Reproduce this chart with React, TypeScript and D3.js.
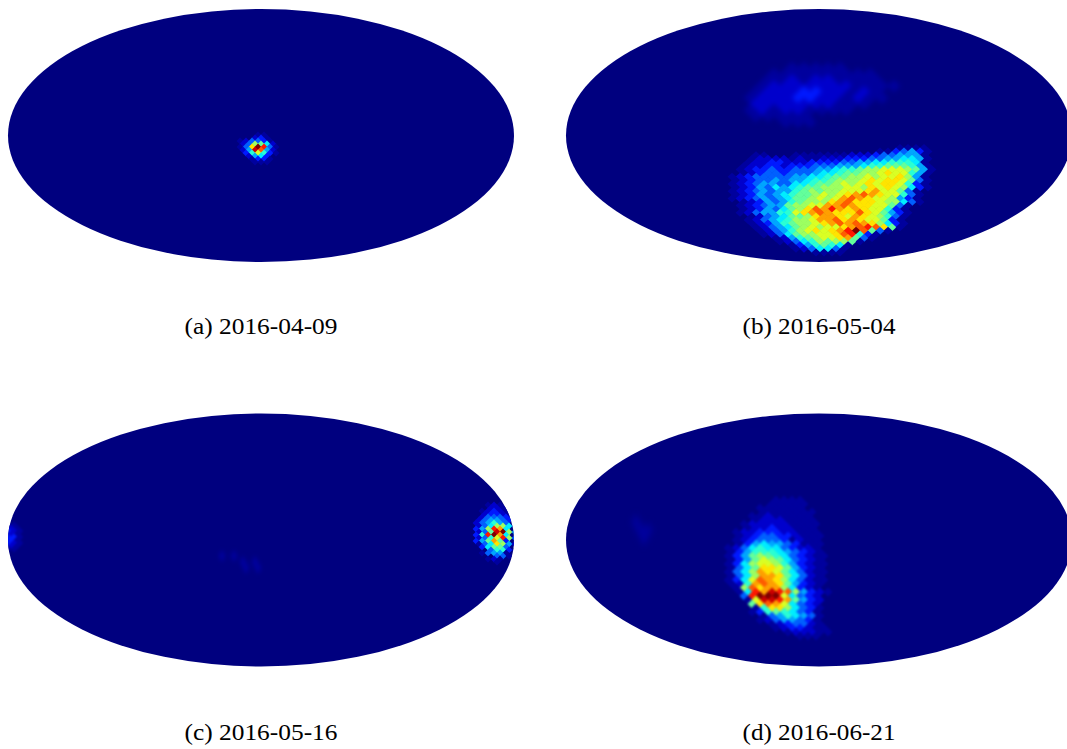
import React from "react";
import * as d3 from "d3";

const captions = ["(a) 2016-04-09", "(b) 2016-05-04", "(c) 2016-05-16", "(d) 2016-06-21"];

// estimated colour level per sky cell: "." background, "," faint, 0-9a-f along the jet map
const heatA = [
  "...,,..",
  "..12,.",
  ",1332,.",
  "138751",
  ",3afd3,",
  "14ec41",
  ".26962,",
  ".1452.",
  "..,22,.",
  "..,,,",
];
const heatB = [
  "......................,,,,",
  "...................,,2342,",
  "....,,...,,,,,,,111233444,",
  "...,1111,1,,1112223344554,",
  "...,112211122223344556665,",
  "..,1122122233344456677764,",
  "..,12232233344566788999874,",
  "..,12332333455677889a9964,",
  ".,12333334455677889899a84,",
  ".,1233434456678889a9aa973,",
  ".,1234433556778989a9aa962,",
  ".,1243545677888998a9a9852,",
  ".,1234344678788999ab9973,.",
  ".,1243456778989abcba9963,.",
  ".,1234345778989bcba99842,.",
  "..,1243467888abcaaa98853,.",
  "..,1234478899bbcbaa9973,..",
  "..,1243578acbdbaba9962,..",
  "..,1344669abcbaaaca9742,.",
  "...,1345778abba9ba9863,..",
  "...,13456889bbcaba9972,...",
  "...,12467889abcbcba852,...",
  "....,1345789899abcdca7,",
  "....,134689a9abdfc73,",
  ".....,13578899acd62,",
  "......,1467899ab73,",
  ".......,135687887,",
  "........,246765,",
  ".........,13553,",
  "...........,,,,",
];
const heatBUpper = [
  "....,,,,,....",
  "..,,,,,,,,,..",
  "..,,1,11,,,,.",
  ".,1111111,,,,",
  ".,1112211,1,.",
  ",1112211,1,,.",
  ".1111111,,,..",
  ",1,11,,,,....",
  ".,,,,,.......",
  "...,,,.......",
];
const heatCRight = [
  "..,1,...",
  "..11,.",
  ".,121,,.",
  ".1221,",
  ".13332,.",
  "1344321",
  "134643",
  "1358853",
  "248db5",
  "137ef84",
  "26dfb5",
  "1369d83",
  "247b72",
  ",35a841",
  ".25773",
  "..3662,",
  ".,344,",
  "...33,.",
  "..,1,.",
  "...,...",
];
const heatCLeft = [",,", "1,", "21,", "1,", "22,", "2,", "21,", "1,", ",,"];
const heatCFaint = [",.,....", "...,.,.", "....,.,"];
const heatD = [
  "......,,,,...",
  ".....,,,,,...",
  "....,,,,,,...",
  "....,,,,,,,..",
  "...,,1,,,,,..",
  "...,111,,,,..",
  "..,11111,,,,.",
  "..,11211,,,..",
  ".,1122211,,,.",
  ".,1233221,,,.",
  ".,123332,1,,.",
  ".,2454432,,,.",
  ",1356553211,.",
  ",2466654321,.",
  ",2478765321,,",
  ",2479875321,.",
  ",2589986421,,",
  ",357aa97421,.",
  ",358ba97531,,",
  ",358bba7531,.",
  ",259cba8531,,",
  ",16bcba7421,.",
  ".,8cabb8521,.",
  ".,5dbedc8421,",
  "..3dfff95321",
  "..,9eedb7421",
  "...7acb95321",
  "...,6aa8532,",
  "...,2676532,",
  "....,346543,",
  "....,134432,",
  ".....,12331,",
  "......,1221,,",
  ".......,111,,",
  ".........,,,",
];
const heatDFaint = [",.", ",,", ".,"];

const levelOf = (ch: string) => (ch === "," ? 0.4 : parseInt(ch, 16));

const jet = d3
  .scaleLinear<string>()
  .domain([0, 0.11, 0.35, 0.5, 0.64, 0.89, 1])
  .range(["#00007f", "#0000ff", "#00ffff", "#7fff7f", "#ffff00", "#ff0000", "#7f0000"])
  .clamp(true);
const levelScale = d3.scaleLinear().domain([0, 15]).range([0, 1]);

const W = 1067;
const H = 749;
const RX = 253;
const RY = 126.5;
const panels = [
  { cx: 261, cy: 135.5, cap: 0, capY: 334 },
  { cx: 819, cy: 135.5, cap: 1, capY: 334 },
  { cx: 261, cy: 540, cap: 2, capY: 740 },
  { cx: 819, cy: 540, cap: 3, capY: 740 },
];
const layers = [
  { panel: 0, rows: heatA, x0: 240, y0: 135, dx: 6, dy: 3, blur: 0.6 },
  { panel: 1, rows: heatBUpper, x0: 744, y0: 68, dx: 12, dy: 6, blur: 2.5 },
  { panel: 1, rows: heatB, x0: 724, y0: 148, dx: 8, dy: 3.6, blur: 0.7 },
  { panel: 2, rows: heatCRight, x0: 476, y0: 505, dx: 6, dy: 3, blur: 0.7 },
  { panel: 2, rows: heatCLeft, x0: 8, y0: 525, dx: 6, dy: 3, blur: 1 },
  { panel: 2, rows: heatCFaint, x0: 222, y0: 556, dx: 6, dy: 6, blur: 2 },
  { panel: 3, rows: heatD, x0: 728, y0: 500, dx: 8, dy: 4, blur: 0.8 },
  { panel: 3, rows: heatDFaint, x0: 636, y0: 522, dx: 8, dy: 8, blur: 3 },
];

function HeatLayer({ rows, x0, y0, dx, dy, blur }: { rows: string[]; x0: number; y0: number; dx: number; dy: number; blur: number }) {
  const xs = d3.scaleLinear().domain([0, 1]).range([x0, x0 + dx]);
  const ys = d3.scaleLinear().domain([0, 1]).range([y0, y0 + dy]);
  const hw = dx / 2 + 0.4;
  const hh = dy + 0.4;
  const cells: React.ReactNode[] = [];
  rows.forEach((row, r) => {
    row.split("").forEach((ch, c) => {
      if (ch === ".") return;
      const x = xs(c + (r % 2 ? 0.5 : 0));
      const y = ys(r);
      const p = d3.path();
      p.moveTo(x, y - hh);
      p.lineTo(x + hw, y);
      p.lineTo(x, y + hh);
      p.lineTo(x - hw, y);
      p.closePath();
      cells.push(<path key={`${r}-${c}`} d={p.toString()} fill={jet(levelScale(levelOf(ch)))} />);
    });
  });
  return <g style={{ filter: `blur(${blur}px)` }}>{cells}</g>;
}

export default function App() {
  return (
    <svg
      width={W}
      height={H}
      viewBox={`0 0 ${W} ${H}`}
      style={{ position: "absolute", left: 0, top: 0, display: "block", background: "#fff" }}
    >
      <defs>
        {panels.map((p, i) => (
          <clipPath id={`sky${i}`} key={i}>
            <ellipse cx={p.cx} cy={p.cy} rx={RX} ry={RY} />
          </clipPath>
        ))}
      </defs>
      {panels.map((p, i) => (
        <g key={i}>
          <ellipse cx={p.cx} cy={p.cy} rx={RX} ry={RY} fill="#00007f" />
          <g clipPath={`url(#sky${i})`}>
            {layers
              .filter((l) => l.panel === i)
              .map((l, j) => (
                <HeatLayer key={j} rows={l.rows} x0={l.x0} y0={l.y0} dx={l.dx} dy={l.dy} blur={l.blur} />
              ))}
          </g>
          <text
            x={p.cx}
            y={p.capY}
            textAnchor="middle"
            fontFamily="'Liberation Serif', serif"
            fontSize={24}
            textLength={153}
            lengthAdjust="spacingAndGlyphs"
            fill="#000"
          >
            {captions[p.cap]}
          </text>
        </g>
      ))}
    </svg>
  );
}
